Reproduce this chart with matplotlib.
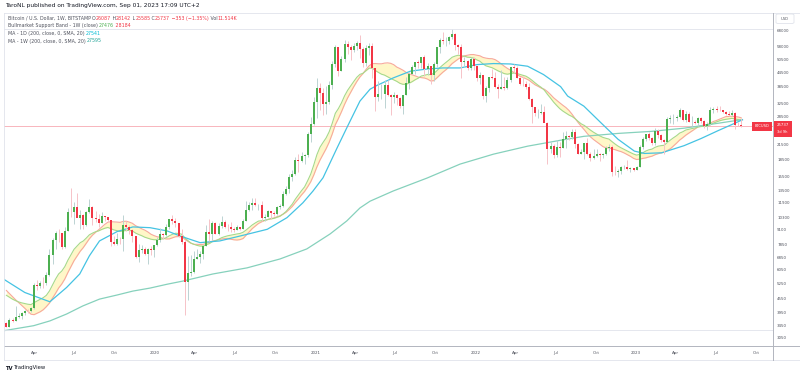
import matplotlib
matplotlib.use('Agg')
import matplotlib.pyplot as plt
import matplotlib.dates as mdates
import numpy as np
import pandas as pd
from matplotlib.lines import Line2D
from matplotlib.patches import Rectangle, FancyBboxPatch

W, H = 800, 375

# ---------------- data ----------------
week_start = pd.date_range('2019-01-28', periods=240, freq='7D')

opens = [
    3545, 3410, 3660, 3620, 3760, 3810, 3920, 4000, 3980, 4100,
    5200, 5150, 5300, 5280, 5750, 7000, 8200, 8750, 8740, 7650,
    8990, 10850, 10800, 11450, 10200, 10550, 9500, 10810, 11400, 10200,
    10130, 9750, 10400, 10300, 10030, 8050, 7880, 8280, 8220, 9550,
    9300, 9040, 8500, 6900, 7400, 7500, 7100, 7500, 7390, 7760,
    8180, 8700, 8600, 9340, 10150, 9920, 9670, 8550, 8030, 5350,
    5830, 5890, 6780, 6900, 7130, 7700, 8900, 8720, 9670, 8720,
    9450, 9760, 9340, 9290, 9120, 9070, 9290, 9180, 9930, 11100,
    11680, 11900, 11650, 11700, 10250, 10330, 10920, 10780, 10670, 11380,
    11500, 13030, 13750, 15480, 15960, 18400, 18180, 19150, 19270, 23860,
    26300, 33000, 38150, 36000, 32280, 33100, 39250, 48600, 57500, 45200,
    50970, 59000, 57350, 55800, 58200, 59800, 56200, 49100, 56600, 58200,
    46400, 34700, 35600, 35800, 39100, 35500, 34700, 35300, 34250, 31800,
    35400, 39900, 43800, 47000, 49300, 48800, 51800, 46000, 47300, 43200,
    48200, 57500, 61500, 60900, 61300, 63300, 65500, 58700, 57200, 49400,
    50100, 46700, 50800, 47300, 41800, 43100, 35100, 37900, 42400, 42200,
    38400, 37700, 38400, 37800, 41300, 46800, 46400, 42150, 39700, 39500,
    38500, 34000, 31300, 29400, 29450, 29900, 26600, 20550, 21030, 19300,
    20850, 20800, 22600, 23300, 23180, 24300, 21500, 19550, 19800, 21800,
    19400, 18800, 19050, 19400, 19200, 19570, 20630, 20900, 16300, 16280,
    16450, 17100, 17100, 16750, 16850, 16600, 17130, 20880, 22700, 23740,
    22930, 21780, 24640, 23500, 22400, 22100, 27900, 27990, 28170, 28320,
    30300, 27580, 29250, 26900, 27040, 26750, 28050, 27200, 25850, 26330,
    30530, 30600, 30300, 30250, 29900, 29300, 29050, 29400, 26100, 26087,
]
highs = [
    3560, 3700, 3720, 4200, 3900, 3960, 4040, 4090, 4150, 5300,
    5470, 5400, 5640, 5900, 7500, 8350, 8950, 9100, 8800, 9350,
    11250, 13880, 12000, 13200, 11100, 10650, 11000, 12320, 11500, 11000,
    10650, 10900, 10470, 10350, 10050, 8480, 8800, 8420, 10500, 9950,
    9500, 9100, 8550, 7850, 7750, 7600, 7520, 7700, 7800, 8450,
    9190, 8800, 9600, 10150, 10500, 10250, 9700, 9180, 8180, 6950,
    7000, 7300, 7480, 7300, 7780, 9480, 10070, 9950, 9850, 9740,
    10400, 9990, 9600, 9780, 9330, 9480, 9350, 10150, 12100, 12000,
    12480, 12480, 11800, 12100, 10600, 11100, 10990, 10950, 11500, 11730,
    13350, 14050, 15950, 16500, 18950, 19500, 19900, 19400, 24300, 28400,
    34800, 41900, 40100, 37850, 38600, 40950, 49700, 58350, 57550, 52600,
    61800, 61000, 58400, 60000, 61200, 64800, 57500, 58400, 59600, 59550,
    46700, 40800, 39500, 41300, 41300, 35600, 36600, 35600, 34600, 35500,
    42500, 44800, 48100, 49400, 50500, 51900, 52950, 48850, 47400, 49200,
    56600, 62900, 67000, 63700, 64300, 69000, 66400, 59400, 59200, 51950,
    50200, 52100, 52050, 47570, 44450, 43500, 38900, 42600, 45850, 44700,
    39500, 45400, 42500, 42300, 46900, 48200, 47200, 42400, 42900, 40800,
    40000, 34400, 31300, 30600, 32200, 31700, 26800, 21900, 21500, 22500,
    22000, 24250, 24650, 23650, 25200, 25100, 21750, 20600, 21800, 22800,
    19950, 20400, 20450, 19700, 19700, 21100, 21500, 21450, 17200, 16750,
    17350, 17450, 18400, 17050, 16950, 17200, 21300, 23100, 23950, 24250,
    23150, 25250, 25100, 23900, 22600, 28400, 28900, 29200, 28800, 31000,
    30500, 30000, 29800, 28500, 27600, 28450, 28450, 27400, 26800, 31400,
    31300, 31500, 31800, 30350, 30000, 29950, 30250, 29700, 26850, 28142,
]
lows = [
    3380, 3390, 3560, 3600, 3700, 3680, 3830, 3900, 3950, 4090,
    4950, 5050, 5050, 5200, 5700, 6400, 7500, 8000, 7450, 7550,
    8950, 10350, 9650, 11050, 9100, 9150, 9380, 10700, 9500, 9800,
    9320, 9700, 9900, 9850, 7700, 7750, 7760, 7850, 7300, 8950,
    8650, 8000, 6800, 6520, 7150, 7050, 6430, 7050, 6880, 7680,
    8050, 8250, 8550, 9150, 9650, 9300, 8450, 7850, 3850, 4450,
    5680, 5850, 6750, 6480, 6780, 7660, 8100, 8200, 8650, 8640,
    9270, 9200, 8980, 8820, 8900, 9050, 9020, 9100, 9900, 10950,
    11100, 11500, 11100, 9900, 9860, 10300, 10150, 10400, 10530, 11200,
    11400, 12900, 13200, 14800, 15800, 16200, 18000, 17600, 19000, 21900,
    26000, 28000, 30400, 28850, 29300, 32300, 37400, 47000, 43000, 44900,
    49300, 53300, 50400, 54800, 55500, 51500, 47000, 47500, 53000, 42200,
    30000, 33400, 34000, 31000, 34900, 28800, 32700, 32100, 31000, 29300,
    35200, 37500, 43600, 43900, 46300, 46600, 42800, 43400, 39600, 40800,
    46900, 54200, 59500, 58000, 59500, 62300, 55600, 53500, 42000, 47100,
    45500, 45600, 45700, 40600, 39600, 34000, 32900, 36300, 41700, 38000,
    34300, 37500, 37200, 37600, 40500, 44200, 42000, 39200, 38600, 37700,
    33700, 26700, 28700, 28000, 29300, 28200, 17600, 19700, 18800, 19000,
    18900, 20700, 20700, 22400, 22700, 20800, 19500, 19500, 18550, 19300,
    18100, 18500, 19000, 18200, 18700, 19250, 20100, 15600, 15800, 15480,
    16000, 16700, 16600, 16250, 16350, 16500, 17100, 20400, 22300, 22500,
    21400, 21400, 22900, 21900, 19550, 21900, 26600, 26500, 27200, 28150,
    27100, 26950, 26800, 25800, 26500, 25900, 26600, 25350, 24800, 26250,
    29500, 29750, 29950, 29550, 28900, 28600, 28700, 25200, 25800, 25585,
]
closes = [
    3410, 3660, 3620, 3760, 3810, 3920, 4000, 3980, 4100, 5200,
    5150, 5300, 5280, 5750, 7000, 8200, 8750, 8740, 7650, 8990,
    10850, 10800, 11450, 10200, 10550, 9500, 10810, 11400, 10200, 10130,
    9750, 10400, 10300, 10030, 8050, 7880, 8280, 8220, 9550, 9300,
    9040, 8500, 6900, 7400, 7500, 7100, 7500, 7390, 7760, 8180,
    8700, 8600, 9340, 10150, 9920, 9670, 8550, 8030, 5350, 5830,
    5890, 6780, 6900, 7130, 7700, 8900, 8720, 9670, 8720, 9450,
    9760, 9340, 9290, 9120, 9070, 9290, 9180, 9930, 11100, 11680,
    11900, 11650, 11700, 10250, 10330, 10920, 10780, 10670, 11380, 11500,
    13030, 13750, 15480, 15960, 18400, 18180, 19150, 19270, 23860, 26300,
    33000, 38150, 36000, 32280, 33100, 39250, 48600, 57500, 45200, 50970,
    59000, 57350, 55800, 58200, 59800, 56200, 49100, 56600, 58200, 46400,
    34700, 35600, 35800, 39100, 35500, 34700, 35300, 34250, 31800, 35400,
    39900, 43800, 47000, 49300, 48800, 51800, 46000, 47300, 43200, 48200,
    57500, 61500, 60900, 61300, 63300, 65500, 58700, 57200, 49400, 50100,
    46700, 50800, 47300, 41800, 43100, 35100, 37900, 42400, 42200, 38400,
    37700, 38400, 37800, 41300, 46800, 46400, 42150, 39700, 39500, 38500,
    34000, 31300, 29400, 29450, 29900, 26600, 20550, 21030, 19300, 20850,
    20800, 22600, 23300, 23180, 24300, 21500, 19550, 19800, 21800, 19400,
    18800, 19050, 19400, 19200, 19570, 20630, 20900, 16300, 16280, 16450,
    17100, 17100, 16750, 16850, 16600, 17130, 20880, 22700, 23740, 22930,
    21780, 24640, 23500, 22400, 22100, 27900, 27990, 28170, 28320, 30300,
    27580, 29250, 26900, 27040, 26750, 28050, 27200, 25850, 26330, 30530,
    30600, 30300, 30250, 29900, 29300, 29050, 29400, 26100, 26087, 25737,
]
# weekly closes of the 26 weeks before the first bar (needed for the band)
closes_before_chart = [7030, 6280, 6500, 6710, 7270, 6250, 6500, 6700, 6600, 6590,
                       6280, 6410, 6400, 6470, 6350, 5560, 4000, 4150, 3600, 3200,
                       3980, 3860, 4050, 3520, 3540, 3540]

ma200d_dates = ['2019-01-22', '2019-03-11', '2019-05-07', '2019-06-14', '2019-07-14',
                '2019-08-05', '2019-08-28', '2019-10-07', '2019-11-12', '2019-12-21',
                '2020-01-29', '2020-02-27', '2020-04-13', '2020-05-28', '2020-07-29',
                '2020-09-13', '2020-10-28', '2020-12-03', '2020-12-26', '2021-01-18',
                '2021-02-19', '2021-03-13', '2021-04-12', '2021-05-05', '2021-05-21',
                '2021-06-27', '2021-08-05', '2021-09-12', '2021-10-18', '2021-11-26',
                '2022-01-04', '2022-02-10', '2022-03-21', '2022-04-29', '2022-06-04',
                '2022-07-13', '2022-07-29', '2022-09-04', '2022-10-13', '2022-11-21',
                '2022-12-28', '2023-01-20', '2023-02-28', '2023-04-20', '2023-05-29',
                '2023-07-07', '2023-08-06', '2023-08-31']
ma200d_values = [5500, 4810, 4380, 5060, 5800, 6970, 8100, 8900, 9330, 9260,
                 8960, 8520, 7960, 8100, 8660, 9110, 10250, 11900, 13400, 15330,
                 20730, 25370, 33260, 37500, 39000, 42050, 45000, 46000, 46500, 46500,
                 48100, 48600, 48400, 47300, 43500, 38500, 35000, 31600, 26700, 22600,
                 20070, 19600, 19730, 21200, 22800, 24700, 26200, 27541]

ma200w_dates = ['2019-01-22', '2019-03-31', '2019-05-07', '2019-06-14', '2019-07-21',
                '2019-08-28', '2019-10-07', '2019-11-12', '2019-12-21', '2020-01-29',
                '2020-03-05', '2020-05-12', '2020-07-29', '2020-10-12', '2020-12-12',
                '2021-02-03', '2021-03-13', '2021-04-12', '2021-05-05', '2021-06-27',
                '2021-09-12', '2021-11-26', '2022-02-10', '2022-04-29', '2022-07-13',
                '2022-09-04', '2022-11-21', '2023-02-05', '2023-04-20', '2023-07-07',
                '2023-08-31']
ma200w_values = [3270, 3440, 3610, 3870, 4200, 4500, 4690, 4880, 5030, 5230,
                 5400, 5800, 6170, 6750, 7470, 8690, 9910, 11300, 12100, 13420,
                 15290, 17600, 19460, 21100, 22400, 23300, 24000, 24500, 25300, 26600,
                 27595]

price_ticks = [68000, 58000, 50500, 44500, 38500, 32500, 28500, 21500, 18500, 15500,
               13500, 11900, 10300, 9100, 7850, 6850, 6050, 5250, 4550, 3950, 3450, 3050]
time_tick_dates = ['2019-04-01', '2019-07-01', '2019-10-01', '2020-01-01', '2020-04-01',
                   '2020-07-01', '2020-10-01', '2021-01-01', '2021-04-01', '2021-07-01',
                   '2021-10-01', '2022-01-01', '2022-04-01', '2022-07-01', '2022-10-01',
                   '2023-01-01', '2023-04-01', '2023-07-01', '2023-10-01']
time_tick_labels = ['Apr', 'Jul', 'Oct', '2020', 'Apr', 'Jul', 'Oct', '2021', 'Apr', 'Jul',
                    'Oct', '2022', 'Apr', 'Jul', 'Oct', '2023', 'Apr', 'Jul', 'Oct']
last_price = 25737

# ---------------- styling ----------------
UP = '#4caf50'
DN = '#f23645'
WICK_UP = '#bcd3d3'
WICK_DN = '#f6c3c8'
SMA_C = '#f7a99c'
EMA_C = '#a6d98a'
BAND_FILL = '#fff7c8'
MA_D_C = '#45c3e3'
MA_W_C = '#86d1bc'
TXT = '#50535e'
GRID = '#e0e3eb'
AXC = '#b2b5be'

plt.rcParams['font.family'] = ['DejaVu Sans']

fig = plt.figure(figsize=(W / 100, H / 100), dpi=100)
fig.patch.set_facecolor('white')

def fx(x):
    return x / W

def fy(y):
    return 1 - y / H

ax_left, ax_right, ax_top, ax_bot = 4, 773, 13, 346
ax = fig.add_axes([fx(ax_left), fy(ax_bot), (ax_right - ax_left) / W, (ax_bot - ax_top) / H])
ax.set_facecolor('none')
for s in ax.spines.values():
    s.set_visible(False)

x = mdates.date2num(week_start)
o = np.array(opens, float)
h = np.array(highs, float)
l = np.array(lows, float)
c = np.array(closes, float)
up = c >= o
dn = ~up

# Bull market support band (20W SMA / 21W EMA of weekly closes)
all_close = pd.Series(closes_before_chart + closes, dtype=float)
sma20 = all_close.rolling(20).mean().to_numpy()[len(closes_before_chart):]
ema21 = all_close.ewm(span=21, adjust=False).mean().to_numpy()[len(closes_before_chart):]

ax.fill_between(x, sma20, ema21, color=BAND_FILL, lw=0, zorder=1)
ax.plot(x, sma20, color=SMA_C, lw=0.8, zorder=2)
ax.plot(x, ema21, color=EMA_C, lw=0.8, zorder=2)

ax.plot(mdates.date2num(pd.to_datetime(ma200w_dates)), ma200w_values, color=MA_W_C, lw=0.9, zorder=2)
ax.plot(mdates.date2num(pd.to_datetime(ma200d_dates)), ma200d_values, color=MA_D_C, lw=0.9, zorder=2)

ax.axhline(last_price, color='#f7aab2', lw=0.6, zorder=1.5)

# candles
ax.vlines(x[up], l[up], h[up], color=WICK_UP, lw=0.7, zorder=3)
ax.vlines(x[dn], l[dn], h[dn], color=WICK_DN, lw=0.7, zorder=3)
ax.bar(x[up], c[up] - o[up], bottom=o[up], width=4.6, color=UP, lw=0, zorder=4)
ax.bar(x[dn], o[dn] - c[dn], bottom=c[dn], width=4.6, color=DN, lw=0, zorder=4)

ax.set_yscale('log')
start = mdates.date2num(pd.Timestamp('2019-01-28'))
ax.set_xlim(start - 5.47, start + 1745.6)
ax.set_ylim(2802, 81000)

ax.yaxis.tick_right()
ax.set_yticks(price_ticks)
ax.set_yticklabels([str(v) for v in price_ticks])
ax.yaxis.set_minor_locator(matplotlib.ticker.NullLocator())
ax.tick_params(axis='y', length=0, pad=3.0, labelsize=2.9, labelcolor=TXT)
for t in ax.get_yticklabels():
    t.set_horizontalalignment('left')

ax.set_xticks(mdates.date2num(pd.to_datetime(time_tick_dates)))
ax.set_xticklabels(time_tick_labels)
ax.tick_params(axis='x', length=0, pad=3.5, labelsize=2.9, labelcolor=TXT)

# frame lines
def hline(y, x0, x1, color, lw=0.6):
    fig.add_artist(Line2D([fx(x0), fx(x1)], [fy(y), fy(y)], color=color, lw=lw))

def vline(xp, y0, y1, color, lw=0.6):
    fig.add_artist(Line2D([fx(xp), fx(xp)], [fy(y0), fy(y1)], color=color, lw=lw))

hline(13, 4, 800, GRID)
hline(28.5, 4, 773, GRID)
hline(330, 4, 773, GRID)
hline(346, 4, 800, AXC, 0.7)
hline(359.5, 4, 800, GRID)
vline(4, 13, 359.5, GRID)
vline(773, 13, 359.5, AXC, 0.7)

# USD box
fig.add_artist(FancyBboxPatch((fx(776), fy(23.5)), 18 / W, 9.5 / H,
                              boxstyle='round,pad=0,rounding_size=0.003',
                              ec=GRID, fc='white', lw=0.6))
fig.text(fx(785), fy(18.7), 'USD', fontsize=2.7, color=TXT, ha='center', va='center')

# last price labels
fig.add_artist(Rectangle((fx(752), fy(130.5)), 20 / W, 9 / H, fc=DN, ec='none'))
fig.text(fx(762), fy(126), 'BTCUSD', fontsize=2.6, color='white', ha='center', va='center')
fig.add_artist(Rectangle((fx(773.5), fy(137)), 18 / W, 16 / H, fc=DN, ec='none'))
fig.text(fx(782.5), fy(125.2), '25737', fontsize=2.8, color='white', ha='center', va='center')
fig.text(fx(782.5), fy(132.3), '3d 9h', fontsize=2.6, color='white', ha='center', va='center')

# header and legend
fig.text(fx(5), fy(5.2), 'TaroNL published on TradingView.com, Sep 01, 2023 17:09 UTC+2',
         fontsize=4.2, color='#131722', ha='left', va='center')

renderer = fig.canvas.get_renderer()

def text_width(s, size):
    t1 = fig.text(0, 0, s + '.', fontsize=size)
    t2 = fig.text(0, 0, '.', fontsize=size)
    w = t1.get_window_extent(renderer=renderer).width - t2.get_window_extent(renderer=renderer).width
    t1.remove()
    t2.remove()
    return w

def colored_line(x0, y, segments, size=3.4):
    prefix = ''
    for s, col in segments:
        off = text_width(prefix, size) if prefix else 0.0
        fig.text(fx(x0 + off), fy(y), s, color=col, fontsize=size, ha='left', va='center')
        prefix += s

colored_line(7.5, 18.5, [('Bitcoin / U.S. Dollar, 1W, BITSTAMP ', TXT), ('O', TXT), ('26087', DN),
                         (' H', TXT), ('28142', DN), (' L', TXT), ('25585', DN), (' C', TXT),
                         ('25737', DN), (' \u2212353 (\u22121.35%)', DN), (' Vol', TXT), ('11.514K', DN)])
colored_line(7.5, 25.5, [('Bullmarket Support Band - 1W (close) ', TXT), ('27476', UP), (' 28184', DN)])
colored_line(7.5, 33.5, [('MA - 1D (200, close, 0, SMA, 20) ', TXT), ('27541', '#00bcd4')])
colored_line(7.5, 41, [('MA - 1W (200, close, 0, SMA, 20) ', TXT), ('27595', '#26a69a')])

# TradingView logo
fig.text(fx(5), fy(368), 'TV', fontsize=3.8, color='#131722', fontweight='bold', ha='left', va='center')
fig.text(fx(14), fy(368), 'TradingView', fontsize=3.8, color='#131722', ha='left', va='center')

fig.savefig('out.png', dpi=100, facecolor='white')
